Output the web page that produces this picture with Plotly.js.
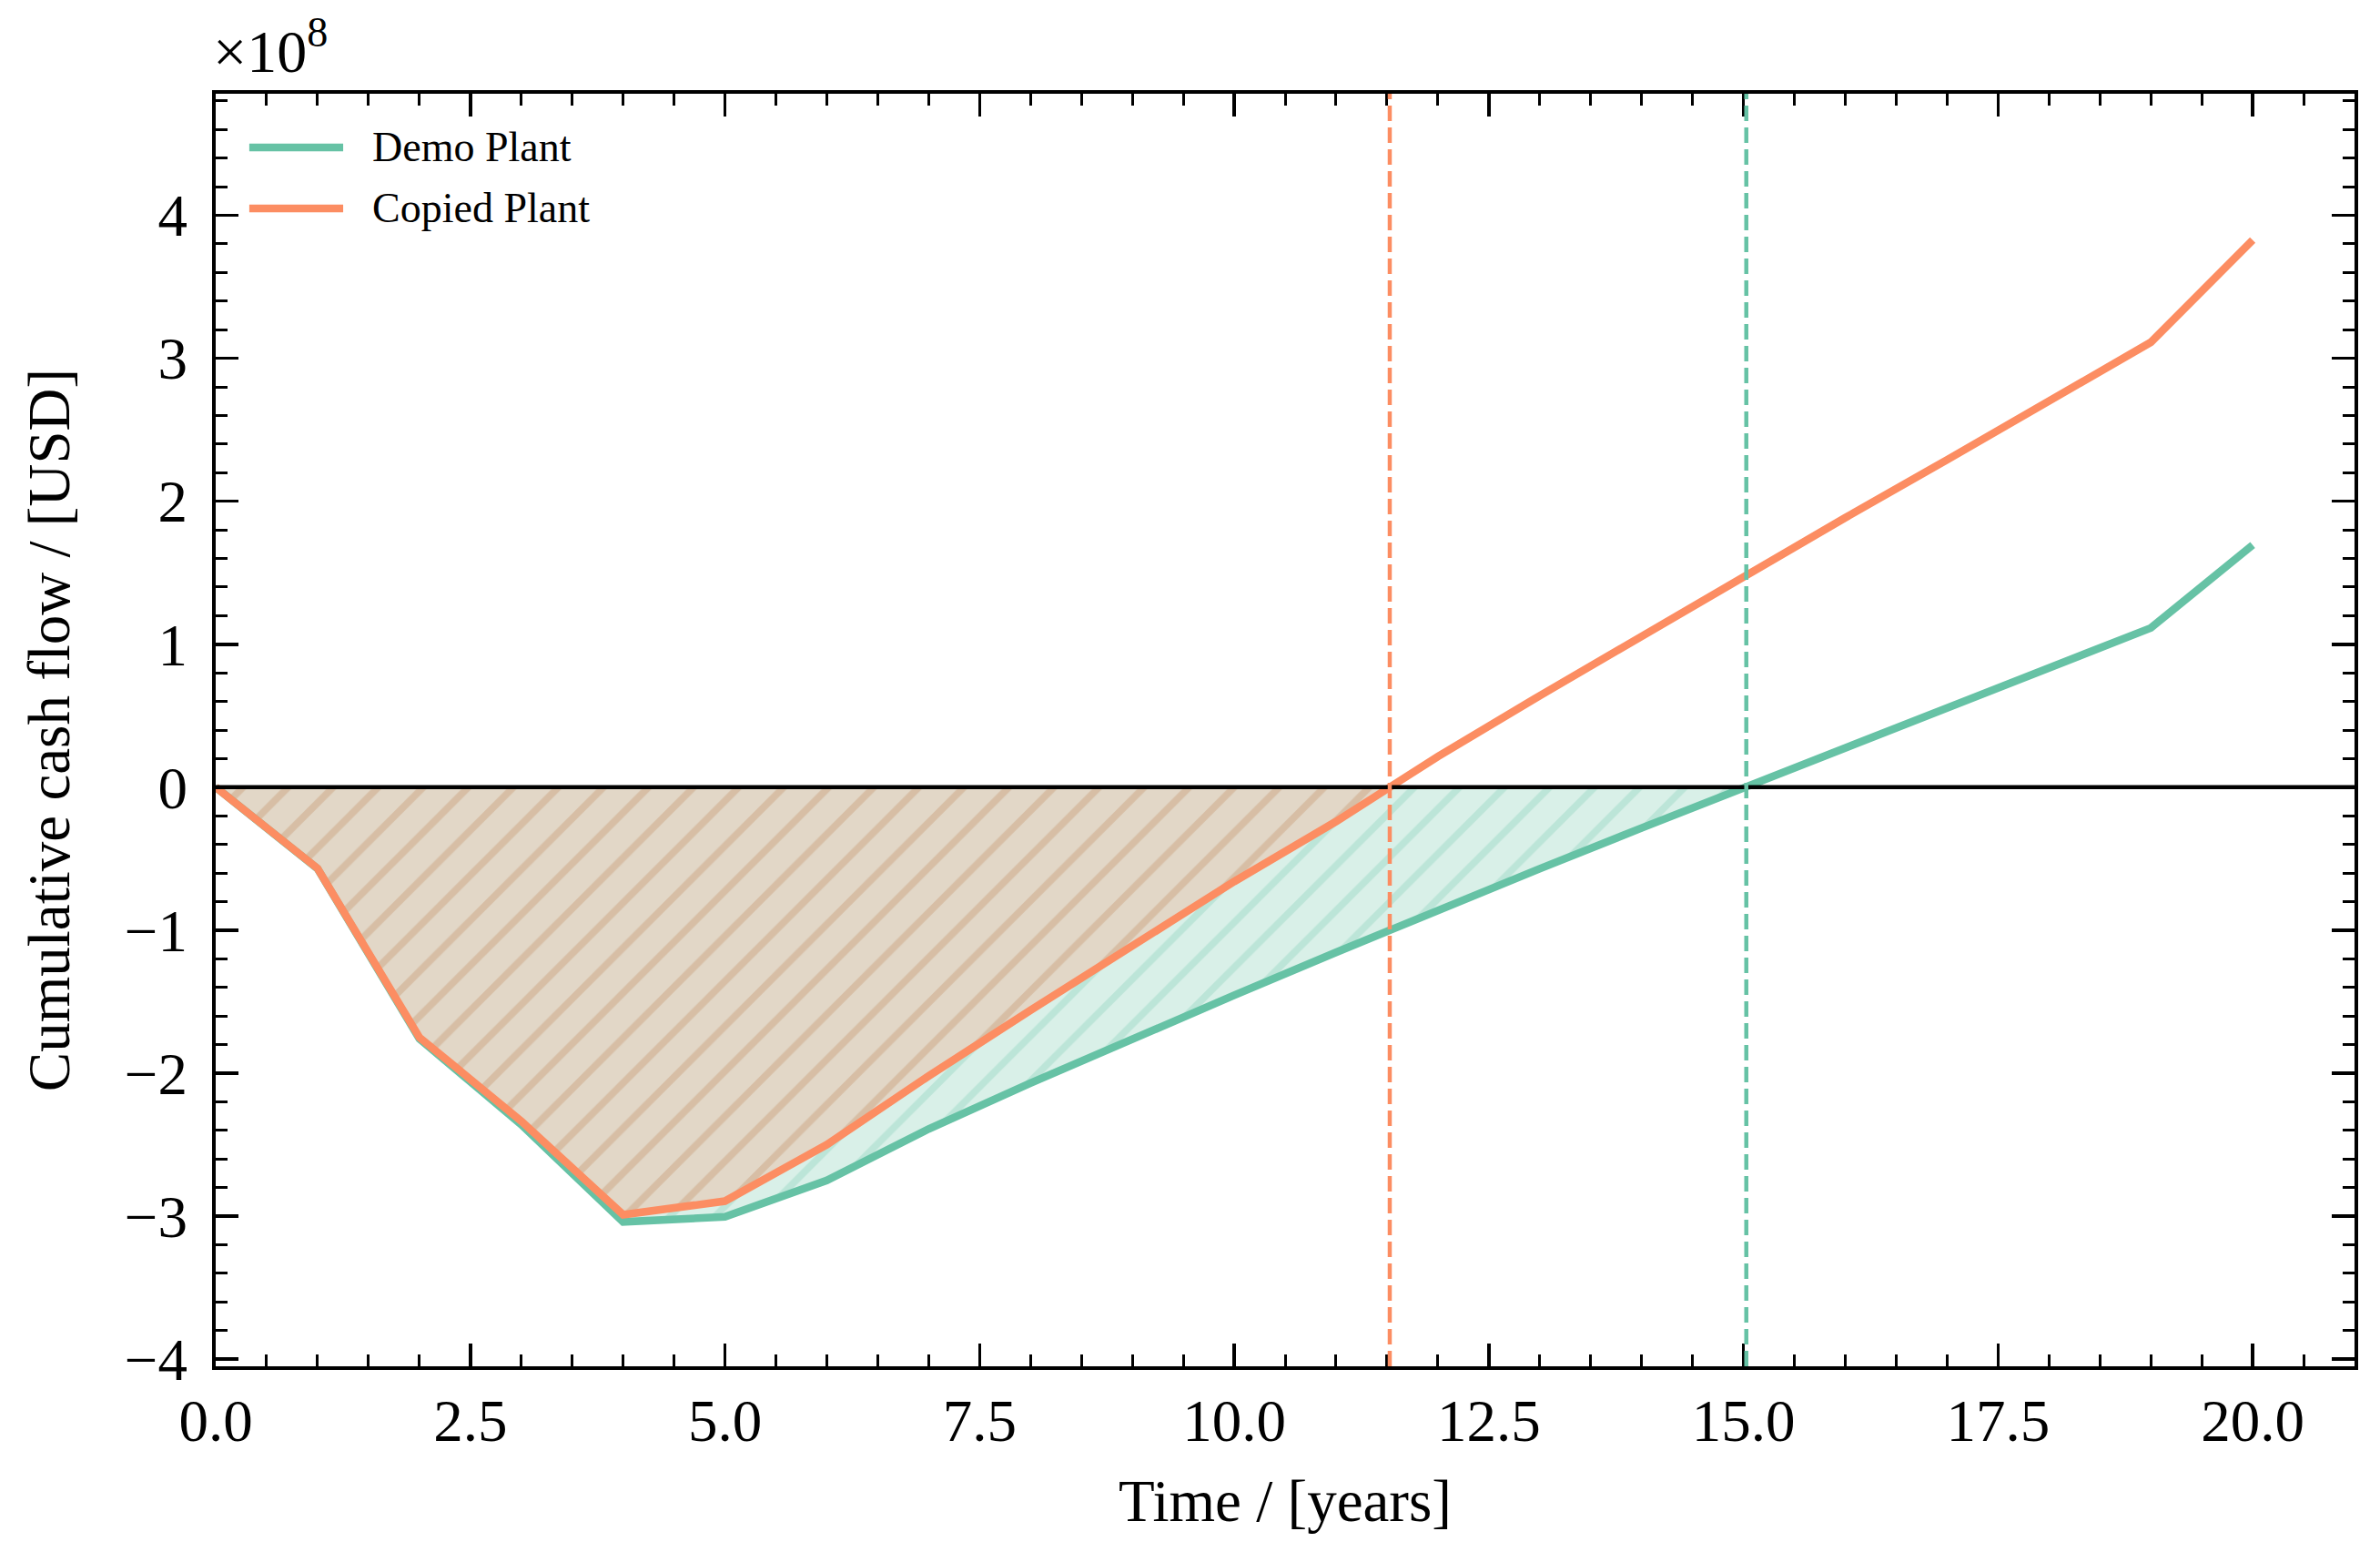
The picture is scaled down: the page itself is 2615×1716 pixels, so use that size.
<!DOCTYPE html>
<html>
<head>
<meta charset="utf-8">
<script src="https://cdn.plot.ly/plotly-3.0.1.min.js"></script>
<style>
  html, body { margin: 0; padding: 0; background: #fff; }
  #chart { width: 2615px; height: 1716px; }
</style>
</head>
<body>
<div id="chart"></div>
<script>
// cumulative cash flow, in units of 1e8 USD
var years = [ 0, 1, 2, 3, 4, 5, 6, 7, 8, 9, 10, 11, 12, 13, 14, 15, 16, 17, 18, 19, 20 ];
var demoPlant = [ 0, -0.57, -1.76, -2.36, -3.04, -3.005, -2.75, -2.39, -2.07, -1.76, -1.455,
                  -1.155, -0.86, -0.57, -0.285, -0.008, 0.275, 0.555, 0.835, 1.114, 1.694 ];
var copiedPlant = [ 0, -0.568, -1.75, -2.335, -2.99, -2.895, -2.50, -2.02, -1.56, -1.105, -0.66,
                    -0.24, 0.215, 0.64, 1.06, 1.475, 1.885, 2.29, 2.70, 3.112, 3.826 ];
var seriesNames = [ 'Demo Plant', 'Copied Plant' ];
var seriesColors = [ '#66c2a5', '#fc8d62' ];
var seriesFills = [ 'rgba(102,194,165,0.25)', 'rgba(252,141,98,0.25)' ];

var FONT = "'Liberation Serif', 'Times New Roman', serif";

// part of a curve below zero, closed at the interpolated zero crossing
function negativePart( xs, ys ) {
    var outX = [], outY = [];
    for ( let i = 0; i < xs.length; ++i ) {
        if ( ys[ i ] > 0 ) break;
        outX.push( xs[ i ] );
        outY.push( ys[ i ] );
        if ( i + 1 < xs.length && ys[ i + 1 ] > 0 ) {
            outX.push( zeroCrossing( xs, ys, i ) );
            outY.push( 0 );
        }
    }
    return { x: outX, y: outY };
}

function zeroCrossing( xs, ys, i ) {
    return xs[ i ] + ( xs[ i + 1 ] - xs[ i ] ) * ( -ys[ i ] ) / ( ys[ i + 1 ] - ys[ i ] );
}

function paybackTime( xs, ys ) {
    for ( let i = 1; i < xs.length - 1; ++i ) {
        if ( ys[ i ] <= 0 && ys[ i + 1 ] > 0 ) return zeroCrossing( xs, ys, i );
    }
    return null;
}

var allSeries = [ demoPlant, copiedPlant ];
var data = [];

//Hatched fills first, so the curves sit on top
allSeries.forEach( function( ys, k ) {
    let neg = negativePart( years, ys );
    data.push({
        x: neg.x,
        y: neg.y,
        type: 'scatter',
        mode: 'none',
        fill: 'tozeroy',
        fillcolor: seriesFills[ k ],
        fillpattern: {
            shape: '/',
            bgcolor: seriesFills[ k ],
            fgcolor: seriesFills[ k ],
            size: 35,
            solidity: 0.22,
            fillmode: 'replace'
        },
        hoverinfo: 'skip',
        showlegend: false
    });
});

allSeries.forEach( function( ys, k ) {
    data.push({
        x: years,
        y: ys,
        type: 'scatter',
        mode: 'lines',
        name: seriesNames[ k ],
        line: { color: seriesColors[ k ], width: 8.5 },
        showlegend: false
    });
});

var shapes = [
    { type: 'line', layer: 'above', xref: 'paper', x0: 0, x1: 1, yref: 'y', y0: 0, y1: 0,
      line: { color: '#000', width: 4.5 } }
];

// payback lines, copied plant first like the reference
[ 1, 0 ].forEach( function( k ) {
    let t = paybackTime( years, allSeries[ k ] );
    shapes.push({ type: 'line', layer: 'above', xref: 'x', x0: t, x1: t, yref: 'paper', y0: 0, y1: 1,
                  line: { color: seriesColors[ k ], width: 4.5, dash: '17px,7px' } });
});

// hand drawn legend (matplotlib style long handles)
var annotations = [
    { xref: 'paper', yref: 'paper', x: -0.002, y: 1.006, xanchor: 'left', yanchor: 'bottom',
      text: '×10<sup>8</sup>', showarrow: false, font: { family: FONT, size: 66, color: '#000' } }
];
var legendRows = [ 0.9578, 0.9099 ];
seriesNames.forEach( function( name, k ) {
    shapes.push({ type: 'line', xref: 'paper', yref: 'paper', x0: 0.0157, x1: 0.0596,
                  y0: legendRows[ k ], y1: legendRows[ k ], line: { color: seriesColors[ k ], width: 8.5 } });
    annotations.push({ xref: 'paper', yref: 'paper', x: 0.0723, y: legendRows[ k ], xanchor: 'left',
                       yanchor: 'middle', text: name, showarrow: false,
                       font: { family: FONT, size: 46, color: '#000' } });
});

var axisCommon = {
    showline: true,
    linecolor: '#000',
    linewidth: 4,
    mirror: 'allticks',
    ticks: 'inside',
    ticklen: 25,
    tickwidth: 3.5,
    tickcolor: '#000',
    showgrid: false,
    zeroline: false,
    tickfont: { family: FONT, size: 65, color: '#000' }
};

var layout = {
    width: 2615,
    height: 1716,
    margin: { l: 237, r: 28, t: 103, b: 215 },
    paper_bgcolor: '#fff',
    plot_bgcolor: '#fff',
    font: { family: FONT, color: '#000' },
    showlegend: false,
    xaxis: Object.assign( {}, axisCommon, {
        range: [ 0, 21 ],
        tick0: 0,
        dtick: 2.5,
        tickformat: '.1f',
        ticklabelstandoff: 0,
        minor: { ticks: 'inside', ticklen: 13, tickwidth: 3, tickcolor: '#000', dtick: 0.5, tick0: 0 },
        title: { text: 'Time / [years]', font: { family: FONT, size: 65, color: '#000' }, standoff: 30 }
    }),
    yaxis: Object.assign( {}, axisCommon, {
        range: [ -4.05, 4.85 ],
        tick0: 0,
        dtick: 1,
        ticklabelstandoff: 14,
        minor: { ticks: 'inside', ticklen: 13, tickwidth: 3, tickcolor: '#000', dtick: 0.2, tick0: 0 },
        title: { text: 'Cumulative cash flow / [USD]', font: { family: FONT, size: 65, color: '#000' }, standoff: 40 }
    }),
    shapes: shapes,
    annotations: annotations
};

Plotly.newPlot( 'chart', data, layout, { displayModeBar: false, staticPlot: true } );
</script>
</body>
</html>
